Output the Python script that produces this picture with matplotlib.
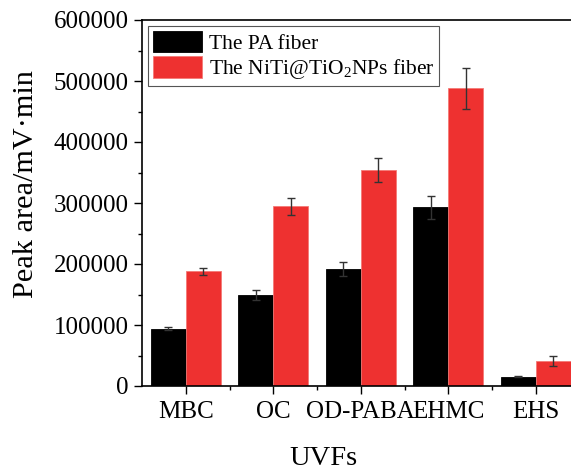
import matplotlib
matplotlib.use('Agg')
import matplotlib.pyplot as plt
import numpy as np

plt.rcParams['font.family'] = ['Liberation Serif', 'DejaVu Serif']
plt.rcParams['mathtext.fontset'] = 'custom'
plt.rcParams['mathtext.rm'] = 'Liberation Serif'

categories = ['MBC', 'OC', 'OD-PABA', 'EHMC', 'EHS']
pa_values = [94000, 149000, 192000, 293000, 15500]
pa_errors = [2500, 8000, 11000, 18500, 1500]
niti_values = [188000, 295000, 354500, 488000, 41000]
niti_errors = [5700, 14000, 19500, 34000, 8200]
labels = ['The PA fiber', r'The NiTi@TiO$_2$NPs fiber']
yticks = [0, 100000, 200000, 300000, 400000, 500000, 600000]

fig = plt.figure(figsize=(5.71, 4.71), dpi=100)
ax = fig.add_axes([142/571, 1 - 386/471, 437.6/571, 366/471])

x = np.arange(len(categories))
w = 0.4
ax.bar(x - w/2, pa_values, w, color='black', edgecolor='black', linewidth=0.6,
       label=labels[0])
ax.bar(x + w/2, niti_values, w, color='#ee3130', edgecolor='#f47a76', linewidth=0.6,
       label=labels[1])
ax.errorbar(x - w/2, pa_values, yerr=pa_errors, fmt='none', ecolor='#333333',
            elinewidth=1, capsize=3, capthick=1)
ax.errorbar(x + w/2, niti_values, yerr=niti_errors, fmt='none', ecolor='#333333',
            elinewidth=1, capsize=3, capthick=1)

ax.set_xlim(-0.5, 4.5)
ax.set_ylim(0, 600000)
ax.set_yticks(yticks)
ax.set_yticklabels([str(v) for v in yticks])
ax.set_yticks(np.arange(50000, 600000, 100000), minor=True)
ax.set_xticks(x)
ax.set_xticklabels(categories)
ax.set_xticks(x[:-1] + 0.5, minor=True)

ax.tick_params(axis='both', which='major', direction='out', length=5.5, width=1,
               labelsize=18, pad=4)
ax.tick_params(axis='both', which='minor', direction='out', length=3, width=1)
ax.tick_params(axis='x', which='major', pad=5)
for s in ax.spines.values():
    s.set_linewidth(1.2)

ax.set_ylabel('Peak area/mV·min', fontsize=21.8)
ax.yaxis.set_label_coords(-0.235, 0.553)
ax.set_xlabel('UVFs', fontsize=20.5)
ax.xaxis.set_label_coords(0.415, -0.163)

leg = ax.legend(loc='upper left', fontsize=15.5, handlelength=2.3, handleheight=1.15,
                labelspacing=0.12, handletextpad=0.3, borderpad=0.2,
                borderaxespad=0.3, fancybox=False, framealpha=1)
leg.get_frame().set_edgecolor('#555555')
leg.get_frame().set_linewidth(0.8)

fig.savefig('out.png', dpi=100)
